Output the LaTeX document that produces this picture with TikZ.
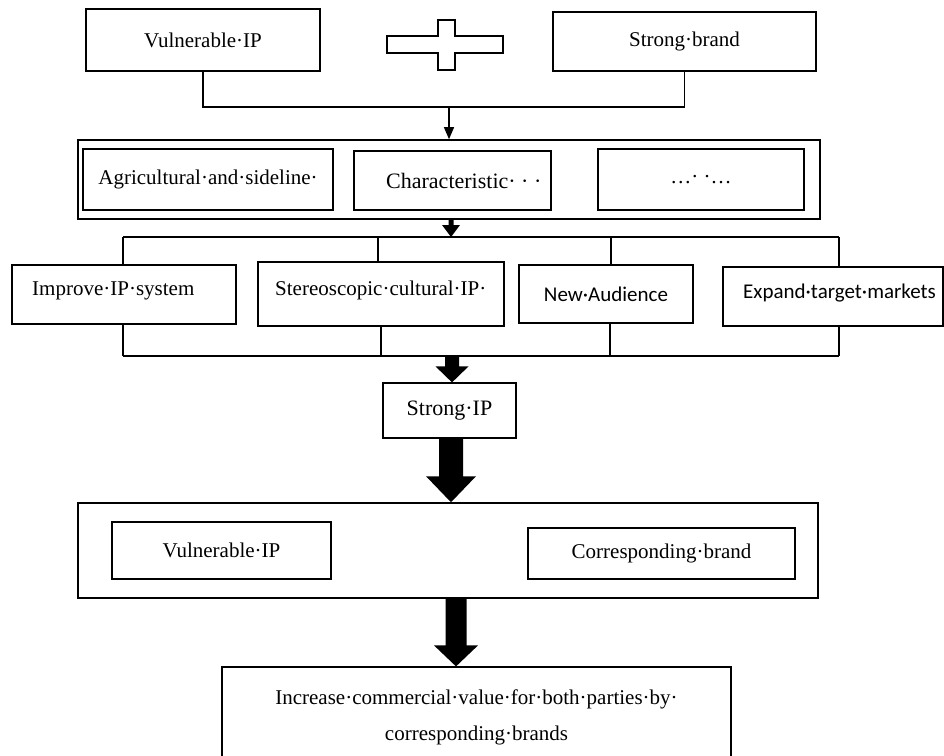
\documentclass[tikz,border=0pt]{standalone}
\usepackage{fontspec}
\setmainfont{Liberation Serif}
\newfontfamily\sansf{Carlito}
\usetikzlibrary{arrows.meta,calc}
\newcommand\blockarrow[6]{% #1 x, #2 from, #3 to, #4 half shaft, #5 half head, #6 head length
  \fill let \p1=#2, \p2=#3 in
    (#1-#4,\y1) -- (#1+#4,\y1) -- (#1+#4,\y2+#6) -- (#1+#5,\y2+#6) -- (#1,\y2)
    -- (#1-#5,\y2+#6) -- (#1-#4,\y2+#6) -- cycle;}
\begin{document}
\begin{tikzpicture}[x=1pt,y=-1pt,
  box/.style={draw,line width=1.2pt,rectangle,inner sep=0pt,font=\fontsize{21}{25}\selectfont},
  sbox/.style={box,font=\sansf\fontsize{21}{25}\selectfont},
  txt/.style={inner sep=0pt,font=\fontsize{21}{25}\selectfont},
  ln/.style={line width=1.2pt},
  thinarrow/.style={line width=1.2pt,-{Triangle[width=10pt,length=12pt]}}]
\fill[white] (0,0) rectangle (944,755);
\useasboundingbox (0,0) rectangle (944,755);

% top row
\node[box,minimum width=234pt,minimum height=62pt] (vip1) at (203,40) {Vulnerable·IP};
\node[box,minimum width=263pt,minimum height=59pt] (sb) at (684.5,41.5) {Strong·brand};
\draw[line width=1.5pt] (387,36) -- (438,36) -- (438,20) -- (455,20) -- (455,36) -- (503,36)
  -- (503,53) -- (455,53) -- (455,70) -- (438,70) -- (438,53) -- (387,53) -- cycle;
\coordinate (j1) at (449,107);
\draw[ln] (vip1.south) |- (j1) -| (sb.south);

% second row
\node[box,line width=1.6pt,minimum width=742pt,minimum height=79pt] (outer1) at (449,179.5) {};
\draw[thinarrow] (j1) -- (outer1.north);
\node[box,minimum width=250pt,minimum height=61pt] (agri) at (208,179.5) {Agricultural·and·sideline·};
\node[box,minimum width=197pt,minimum height=59pt] (char) at (452.5,180.5) {};
\node[txt,anchor=west,font=\fontsize{22}{25}\selectfont] (chart) at (386,181) {Characteristic· · ·};
\node[box,minimum width=206pt,minimum height=61pt] (dots) at (701,179.5) {…· ·…};

% bus 2
\coordinate (b2a) at (123,237);
\coordinate (b2b) at (378,237);
\coordinate (b2c) at (611,237);
\coordinate (b2d) at (839,237);
\blockarrow{451pt}{(outer1.south)}{(b2b)}{2.5pt}{9pt}{12pt}

% third row
\node[box,minimum width=224pt,minimum height=59pt] (imp) at (124,294.5) {};
\node[txt,anchor=west] (impt) at (32,291) {Improve·IP·system};
\node[box,minimum width=246pt,minimum height=64pt] (ster) at (381,294) {};
\node[txt,anchor=west] (stert) at (275,290) {Stereoscopic·cultural·IP·};
\node[sbox,minimum width=174pt,minimum height=58pt] (new) at (606,294) {New·Audience};
\node[sbox,minimum width=220pt,minimum height=59pt] (exp) at (833,296.5) {};
\node[txt,anchor=west,font=\sansf\fontsize{21}{25}\selectfont] (expt) at (743,293) {Expand·target·markets};

\draw[ln] (b2a) -- (b2d);
\draw[line width=2.6pt] (b2b) -- (b2c);
\draw[ln] (b2a) -- (b2a |- imp.north);
\draw[ln] (b2b) -- (b2b |- ster.north);
\draw[ln] (b2c) -- (b2c |- new.north);
\draw[ln] (b2d) -- (b2d |- exp.north);

% bus 3
\coordinate (b3a) at (123,356);
\coordinate (b3b) at (381,356);
\coordinate (b3c) at (610,356);
\coordinate (b3d) at (839,356);
\draw[ln] (b3a) -- (b3d);
\draw[ln] (b3a) -- (b3a |- imp.south);
\draw[ln] (b3b) -- (b3b |- ster.south);
\draw[ln] (b3c) -- (b3c |- new.south);
\draw[ln] (b3d) -- (b3d |- exp.south);

% strong IP
\node[box,minimum width=133pt,minimum height=55pt,font=\fontsize{22}{25}\selectfont] (sip) at (449.5,410.5) {Strong·IP};
\blockarrow{452pt}{(b3b)}{(sip.north)}{7pt}{16.5pt}{16pt}

% middle box
\node[box,line width=1.5pt,minimum width=740pt,minimum height=95pt] (mid) at (448,550.5) {};
\node[box,minimum width=219pt,minimum height=57pt] (vip2) at (221.5,550.5) {Vulnerable·IP};
\node[box,minimum width=267pt,minimum height=51pt] (cb) at (661.5,553.5) {Corresponding·brand};
\blockarrow{451pt}{(sip.south)}{(mid.north)}{12pt}{25pt}{26pt}

% final box
\node[box,minimum width=509pt,minimum height=100pt,align=center,font=\fontsize{21}{36}\selectfont] (fin) at (476.5,717)
  {Increase·commercial·value·for·both·parties·by·\\corresponding·brands};
\blockarrow{456pt}{(mid.south)}{(fin.north)}{10.5pt}{22pt}{21pt}
\end{tikzpicture}
\end{document}
